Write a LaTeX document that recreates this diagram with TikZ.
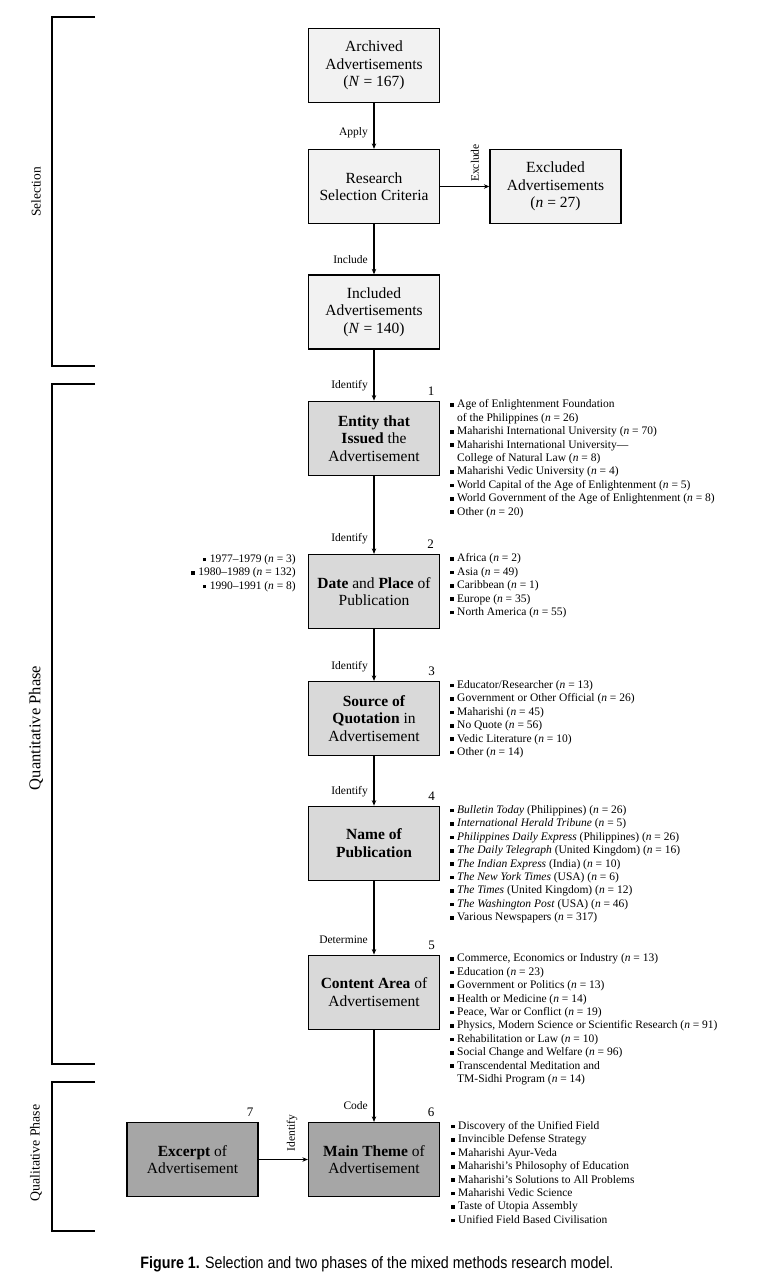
\documentclass[tikz,border=0pt]{standalone}
\usepackage{fontspec}
\usepackage{graphicx}
\setmainfont{Liberation Serif}
\newfontfamily\capfont{Liberation Sans}
\usetikzlibrary{arrows.meta}
\definecolor{boxlight}{HTML}{F2F2F2}
\definecolor{boxmid}{HTML}{D9D9D9}
\definecolor{boxdark}{HTML}{A6A6A6}
\newcommand{\bi}{\makebox[7pt][l]{\raisebox{1.1pt}{\rule{3.6pt}{3.6pt}}}}
\newcommand{\ci}{\hspace*{7pt}}
\newcommand{\nn}{\textit{n}}
\begin{document}
\begin{tikzpicture}[x=1pt,y=-1pt,
  box/.style={draw, line width=1.3pt, minimum width=131pt, minimum height=74pt, inner sep=0pt, align=center, font=\fontsize{15.5}{17.5}\selectfont},
  topbox/.style={box, fill=boxlight},
  midbox/.style={box, fill=boxmid},
  darkbox/.style={box, fill=boxdark},
  arr/.style={line width=1.2pt, -{Stealth[length=5.5pt,width=4.5pt]}},
  lbl/.style={font=\fontsize{11.5}{12}\selectfont, anchor=east, inner sep=0pt},
  vlbl/.style={font=\fontsize{11.5}{12}\selectfont, rotate=90, inner sep=0pt},
  num/.style={font=\fontsize{13}{14}\selectfont, inner sep=0pt},
  lst/.style={font=\fontsize{11.5}{13.4}\selectfont, anchor=base west, inner sep=0pt},
  lstr/.style={font=\fontsize{11.5}{13.4}\selectfont, anchor=base east, inner sep=0pt},
  phase/.style={rotate=90, inner sep=0pt},
  brk/.style={line width=1.5pt}]
\fill[white] (0,0) rectangle (756,1275);
\useasboundingbox (0,0) rectangle (756,1275);

% brackets
\draw[brk] (95,17) -- (52,17) -- (52,366) -- (95,366);
\draw[brk] (95,384) -- (52,384) -- (52,1064) -- (95,1064);
\draw[brk] (95,1082) -- (52,1082) -- (52,1231) -- (95,1231);
\node[phase, font=\fontsize{13.4}{14}\selectfont] (psel) at (36,192) {Selection};
\node[phase, font=\fontsize{16.5}{17}\selectfont] (pquan) at (36,728) {Quantitative Phase};
\node[phase, font=\fontsize{13.8}{14}\selectfont] (pqual) at (36,1153) {Qualitative Phase};

% boxes
\node[topbox] (arch) at (374,65.5) {Archived\\Advertisements\\(\textit{N} = 167)};
\node[topbox] (crit) at (374,186.5) {Research\\Selection Criteria};
\node[topbox] (excl) at (555.5,186.5) {Excluded\\Advertisements\\(\textit{n} = 27)};
\node[topbox] (incl) at (374,312) {Included\\Advertisements\\(\textit{N} = 140)};
\node[midbox] (b1) at (374,438.2) {\textbf{Entity that}\\\textbf{Issued} the\\Advertisement};
\node[midbox] (b2) at (374,591.5) {\textbf{Date} and \textbf{Place} of\\Publication};
\node[midbox] (b3) at (374,718.5) {\textbf{Source of}\\\textbf{Quotation} in\\Advertisement};
\node[midbox] (b4) at (374,843.3) {\textbf{Name of}\\\textbf{Publication}};
\node[midbox] (b5) at (374,992.2) {\textbf{Content Area} of\\Advertisement};
\node[darkbox] (b6) at (374,1159.5) {\textbf{Main Theme} of\\Advertisement};
\node[darkbox] (b7) at (192.5,1159.5) {\textbf{Excerpt} of\\Advertisement};

% numbers
\node[num] (n1) at (431,391) {1};
\node[num] (n2) at (430.5,544) {2};
\node[num] (n3) at (431.5,671.7) {3};
\node[num] (n4) at (431.5,796.7) {4};
\node[num] (n5) at (431.5,945) {5};
\node[num] (n6) at (431,1112) {6};
\node[num] (n7) at (250,1112) {7};

% connectors
\draw[arr] (arch) -- (crit);
\draw[arr] (crit) -- (excl);
\draw[arr] (crit) -- (incl);
\draw[arr] (incl) -- (b1);
\draw[arr] (b1) -- (b2);
\draw[arr] (b2) -- (b3);
\draw[arr] (b3) -- (b4);
\draw[arr] (b4) -- (b5);
\draw[arr] (b5) -- (b6);
\draw[arr] (b7) -- (b6);

% connector labels
\node[lbl] (lapply) at (368,133) {Apply};
\node[lbl] (linclude) at (368,260) {Include};
\node[lbl] (lid1) at (368,386) {Identify};
\node[lbl] (lid2) at (368,539) {Identify};
\node[lbl] (lid3) at (368,666.7) {Identify};
\node[lbl] (lid4) at (368,792) {Identify};
\node[lbl] (ldet) at (368,940) {Determine};
\node[lbl] (lcode) at (368,1106) {Code};
\node[vlbl] (lexcl) at (475,163) {Exclude};
\node[vlbl] (lid7) at (292,1133) {Identify};

% lists
\node[lst] (l1) at (450,407.8) {\begin{tabular}[t]{@{}l@{}}
\bi Age of Enlightenment Foundation\\
\ci of the Philippines (\nn{} = 26)\\
\bi Maharishi International University (\nn{} = 70)\\
\bi Maharishi International University---\\
\ci College of Natural Law (\nn{} = 8)\\
\bi Maharishi Vedic University (\nn{} = 4)\\
\bi World Capital of the Age of Enlightenment (\nn{} = 5)\\
\bi World Government of the Age of Enlightenment (\nn{} = 8)\\
\bi Other (\nn{} = 20)
\end{tabular}};

\node[lstr] (l2a) at (296,562.5) {\begin{tabular}[t]{@{}r@{}}
\bi 1977--1979 (\nn{} = 3)\\
\bi 1980--1989 (\nn{} = 132)\\
\bi 1990--1991 (\nn{} = 8)
\end{tabular}};

\node[lst] (l2b) at (450,561.8) {\begin{tabular}[t]{@{}l@{}}
\bi Africa (\nn{} = 2)\\
\bi Asia (\nn{} = 49)\\
\bi Caribbean (\nn{} = 1)\\
\bi Europe (\nn{} = 35)\\
\bi North America (\nn{} = 55)
\end{tabular}};

\node[lst] (l3) at (450,688.5) {\begin{tabular}[t]{@{}l@{}}
\bi Educator/Researcher (\nn{} = 13)\\
\bi Government or Other Official (\nn{} = 26)\\
\bi Maharishi (\nn{} = 45)\\
\bi No Quote (\nn{} = 56)\\
\bi Vedic Literature (\nn{} = 10)\\
\bi Other (\nn{} = 14)
\end{tabular}};

\node[lst] (l4) at (450,813.5) {\begin{tabular}[t]{@{}l@{}}
\bi \textit{Bulletin Today} (Philippines) (\nn{} = 26)\\
\bi \textit{International Herald Tribune} (\nn{} = 5)\\
\bi \textit{Philippines Daily Express} (Philippines) (\nn{} = 26)\\
\bi \textit{The Daily Telegraph} (United Kingdom) (\nn{} = 16)\\
\bi \textit{The Indian Express} (India) (\nn{} = 10)\\
\bi \textit{The New York Times} (USA) (\nn{} = 6)\\
\bi \textit{The Times} (United Kingdom) (\nn{} = 12)\\
\bi \textit{The Washington Post} (USA) (\nn{} = 46)\\
\bi Various Newspapers (\nn{} = 317)
\end{tabular}};

\node[lst] (l5) at (450,961.8) {\begin{tabular}[t]{@{}l@{}}
\bi Commerce, Economics or Industry (\nn{} = 13)\\
\bi Education (\nn{} = 23)\\
\bi Government or Politics (\nn{} = 13)\\
\bi Health or Medicine (\nn{} = 14)\\
\bi Peace, War or Conflict (\nn{} = 19)\\
\bi Physics, Modern Science or Scientific Research (\nn{} = 91)\\
\bi Rehabilitation or Law (\nn{} = 10)\\
\bi Social Change and Welfare (\nn{} = 96)\\
\bi Transcendental Meditation and\\
\ci TM-Sidhi Program (\nn{} = 14)
\end{tabular}};

\node[lst] (l6) at (451,1129.5) {\begin{tabular}[t]{@{}l@{}}
\bi Discovery of the Unified Field\\
\bi Invincible Defense Strategy\\
\bi Maharishi Ayur-Veda\\
\bi Maharishi's Philosophy of Education\\
\bi Maharishi's Solutions to All Problems\\
\bi Maharishi Vedic Science\\
\bi Taste of Utopia Assembly\\
\bi Unified Field Based Civilisation
\end{tabular}};

% caption
\node[font=\capfont\fontsize{16.5}{18}\selectfont, inner sep=0pt, anchor=base] (cap) at (377,1268) {\scalebox{0.863}[1]{\textbf{Figure 1.} Selection and two phases of the mixed methods research model.}};
\end{tikzpicture}
\end{document}
